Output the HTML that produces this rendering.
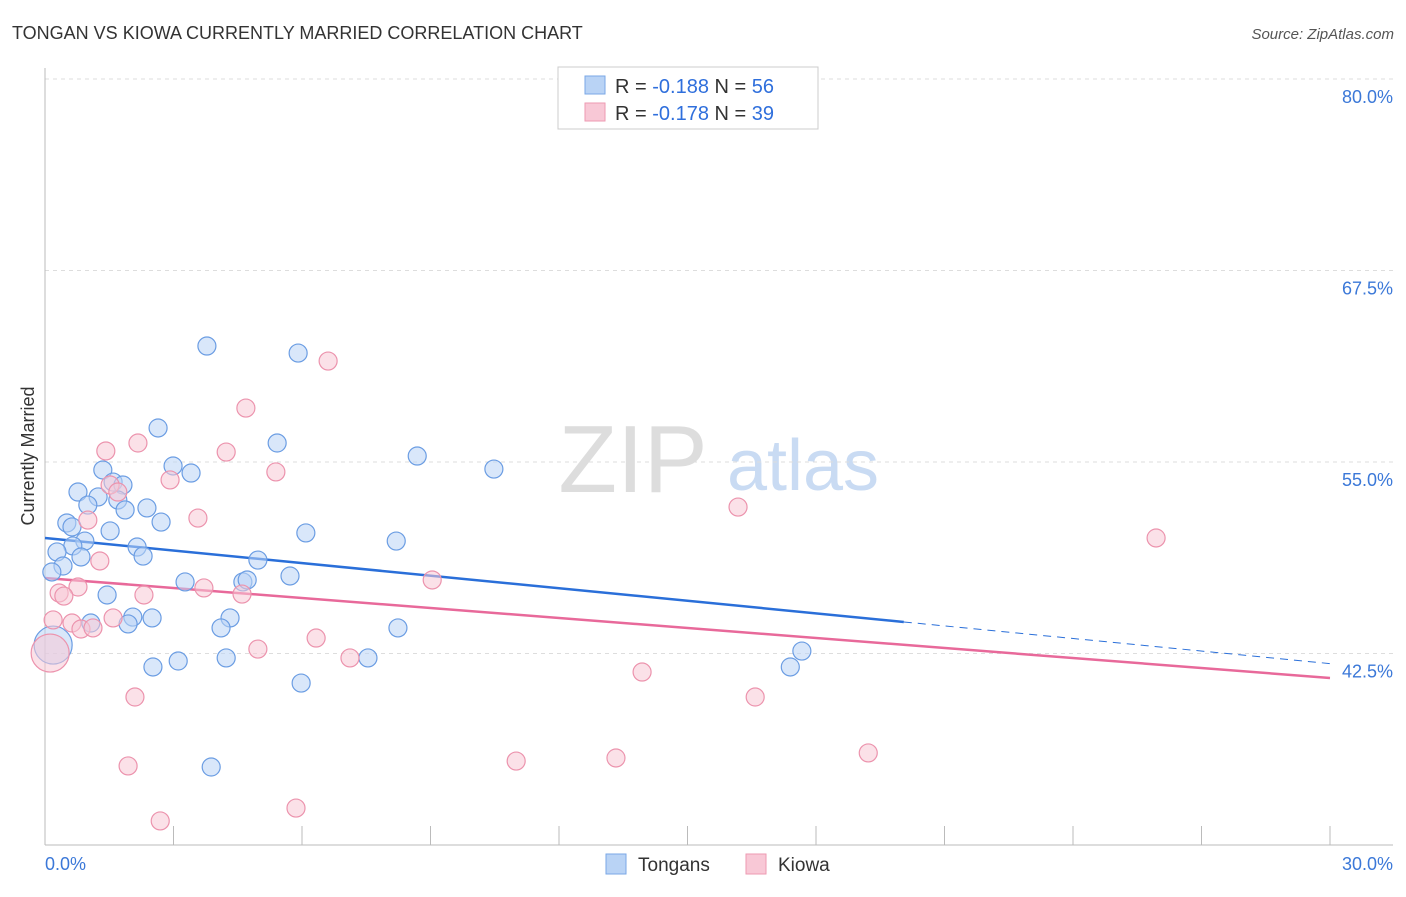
<!DOCTYPE html>
<html><head><meta charset="utf-8"><style>
body{margin:0;background:#fff;font-family:"Liberation Sans",sans-serif}
svg text{font-family:"Liberation Sans",sans-serif}
</style></head><body>
<svg id="chart" width="1406" height="892" xmlns="http://www.w3.org/2000/svg">
<text x="12" y="39" font-size="18" fill="#333">TONGAN VS KIOWA CURRENTLY MARRIED CORRELATION CHART</text>
<text x="1394" y="39" font-size="15" fill="#555" text-anchor="end" font-style="italic">Source: ZipAtlas.com</text>
<g>
<text x="633" y="492" font-size="96" fill="#ddd" text-anchor="middle" font-family="Liberation Serif,serif">ZIP</text>
<text x="803" y="490" font-size="72" fill="#c9dbf3" text-anchor="middle">atlas</text>
</g>
<g id="grid"></g>
<g id="axes"></g>
<g id="trends"></g>
<g id="points"></g>
<text transform="translate(34,456) rotate(-90)" font-size="18" fill="#333" text-anchor="middle">Currently Married</text>
<g>
<rect x="558" y="67" width="260" height="62" fill="#fff" stroke="#ccc"/>
<rect x="585" y="76" width="20" height="18" fill="#b9d3f5" stroke="#7aa7e6"/>
<text x="615" y="93" font-size="20" fill="#333">R = <tspan fill="#2f6fdc">-0.188</tspan>   N = <tspan fill="#2f6fdc">56</tspan></text>
<rect x="585" y="103" width="20" height="18" fill="#f8c8d6" stroke="#ee9ab2"/>
<text x="615" y="120" font-size="20" fill="#333">R = <tspan fill="#2f6fdc">-0.178</tspan>   N = <tspan fill="#2f6fdc">39</tspan></text>
</g>
<g>
<rect x="606" y="854" width="20" height="20" fill="#b9d3f5" stroke="#7aa7e6"/>
<text x="638" y="871" font-size="19" fill="#333">Tongans</text>
<rect x="746" y="854" width="20" height="20" fill="#f8c8d6" stroke="#ee9ab2"/>
<text x="778" y="871" font-size="19" fill="#333">Kiowa</text>
</g>
</svg>
<script>
const yTicks=[80,67.5,55,42.5];
const yTickLabels=["80.0%","67.5%","55.0%","42.5%"];
const xTickLabels=["0.0%","30.0%"];
const tonganX=[2.64,5.42,2.99,3.41,1.35,1.59,1.82,0.77,1.24,1.00,1.70,1.87,2.38,0.51,0.63,2.71,1.52,0.93,0.65,0.28,2.15,2.29,0.84,0.42,0.16,4.97,6.09,5.72,3.27,4.62,4.72,1.45,2.05,1.94,2.50,1.07,4.32,4.11,0.19,2.52,3.11,4.23,5.98,3.78,5.91,8.69,10.48,8.20,7.54,8.24,17.67,17.40,3.88];
const tonganY=[57.22,56.24,54.74,54.28,54.48,53.69,53.50,53.04,52.72,52.19,52.52,51.87,52.00,51.02,50.76,51.08,50.50,49.84,49.52,49.13,49.45,48.86,48.80,48.21,47.82,48.60,50.37,47.56,47.17,47.17,47.30,46.32,44.88,44.43,44.82,44.49,44.82,44.17,43.05,41.62,42.01,42.21,40.57,62.57,62.11,55.39,54.54,49.84,42.21,44.17,42.66,41.62,35.09];
const kiowaX=[4.69,2.17,1.42,4.23,5.39,2.92,1.52,1.70,1.00,3.57,1.28,0.77,0.33,0.44,2.31,3.71,4.60,0.19,0.63,0.84,1.12,1.59,6.33,4.97,2.10,0.12,6.61,9.04,16.18,25.94,13.94,16.58,1.94,11.00,13.33,19.22,5.86,2.69,7.12];
const kiowaY=[58.52,56.24,55.72,55.65,54.35,53.83,53.50,53.04,51.21,51.34,48.54,46.84,46.45,46.25,46.32,46.78,46.38,44.69,44.49,44.10,44.17,44.82,43.51,42.79,39.66,42.53,61.59,47.30,52.06,50.04,41.29,39.66,35.16,35.48,35.68,36.01,32.41,31.57,42.21];
const bigIndexTongan=38, bigIndexKiowa=25;
const tonganTrend=[50.04,41.84], kiowaTrend=[47.43,40.90];
const tonganSolidEnd=20.05;

const NS="http://www.w3.org/2000/svg";
const X0=45,X1=1330,Y80=79,PX_PER=15.32;
const sx=v=>X0+(v/30)*(X1-X0);
const sy=v=>Y80+(80-v)*PX_PER;
function mk(t,a,p){const e=document.createElementNS(NS,t);for(const k in a)e.setAttribute(k,a[k]);p.appendChild(e);return e;}
const grid=document.getElementById('grid'),axes=document.getElementById('axes'),trends=document.getElementById('trends'),pts=document.getElementById('points');
yTicks.forEach((v,i)=>{
 const l=mk('line',{x1:45,x2:1393,y1:sy(v),y2:sy(v),stroke:'#ddd','stroke-dasharray':'4,4'},grid);
 
 
 const t=mk('text',{x:1393,y:sy(v)+24,'font-size':18,fill:'#3b78d8','text-anchor':'end'},grid);
 t.textContent=yTickLabels[i];
 
 
});
const ya=mk('line',{x1:45,x2:45,y1:68,y2:845,stroke:'#bbb'},axes);


const xa=mk('line',{x1:45,x2:1393,y1:845,y2:845,stroke:'#bbb'},axes);


for(let k=0;k<=10;k++){
 const tk=mk('line',{x1:sx(k*3),x2:sx(k*3),y1:826,y2:845,stroke:'#bbb'},axes);
 
 
}
[[0,'start'],[30,'end']].forEach((d,i)=>{
 const t=mk('text',{x:i?1393:45,y:870,'font-size':18,fill:'#3b78d8','text-anchor':d[1]},axes);
 t.textContent=xTickLabels[i];
 
 
});
function dots(xs,ys,big,fill,stroke,name){
 xs.forEach((x,i)=>{
  const c=mk('circle',{cx:sx(x),cy:sy(ys[i]),r:i===big?19:9,fill:fill,'fill-opacity':0.55,stroke:stroke,'stroke-width':1.2},pts);
  
  
 });
}
dots(tonganX,tonganY,bigIndexTongan,'#b9d3f5','#6b9de3','tongan-point');
dots(kiowaX,kiowaY,bigIndexKiowa,'#f8c8d6','#ec93ad','kiowa-point');
const ty=x=>tonganTrend[0]+(tonganTrend[1]-tonganTrend[0])*x/30;
const l1=mk('line',{x1:sx(0),y1:sy(ty(0)),x2:sx(tonganSolidEnd),y2:sy(ty(tonganSolidEnd)),stroke:'#2a6fd9','stroke-width':2.5},trends);


const l2=mk('line',{x1:sx(tonganSolidEnd),y1:sy(ty(tonganSolidEnd)),x2:sx(30),y2:sy(ty(30)),stroke:'#2a6fd9','stroke-width':1,'stroke-dasharray':'8,6'},trends);


const l3=mk('line',{x1:sx(0),y1:sy(kiowaTrend[0]),x2:sx(30),y2:sy(kiowaTrend[1]),stroke:'#e8699a','stroke-width':2.5},trends);


</script>
</body></html>
